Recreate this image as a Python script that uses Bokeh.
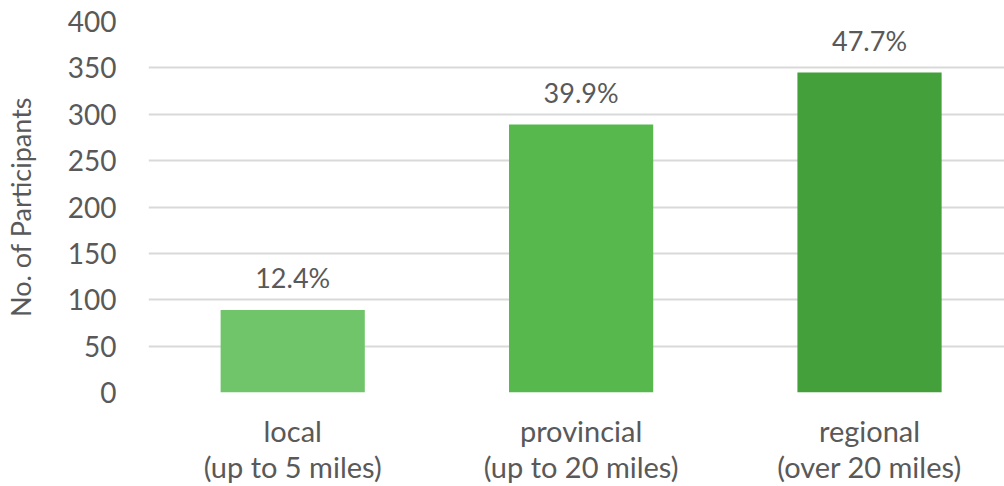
from bokeh.plotting import figure
from bokeh.models import ColumnDataSource, Range1d, FixedTicker
from bokeh.core.properties import value
from bokeh.embed import file_html
from bokeh.resources import INLINE

category_names = ["local", "provincial", "regional"]
category_ranges = ["(up to 5 miles)", "(up to 20 miles)", "(over 20 miles)"]
participants = [89, 289, 345]
shares = ["12.4%", "39.9%", "47.7%"]
colors = ["#70C56B", "#57B94D", "#43A03B"]
y_ticks = [0, 50, 100, 150, 200, 250, 300, 350, 400]

FONT = "Lato"
TXT = "#595959"

xs = [i + 0.5 for i in range(len(category_names))]
src = ColumnDataSource(dict(x=xs, top=participants, label=shares, color=colors))

p = figure(width=1004, height=486, output_backend="svg", toolbar_location=None,
           x_range=Range1d(0, 2.968), y_range=Range1d(0, 400),
           min_border_left=147, min_border_right=0, min_border_top=21, min_border_bottom=94)
p.outline_line_color = None
p.background_fill_color = "white"
p.border_fill_color = "white"

p.vbar(x="x", top="top", width=0.5, bottom=0, color="color", source=src, line_color=None)
p.text(x="x", y="top", text="label", source=src, text_align="center",
       text_baseline="alphabetic", y_offset=-32, text_color=TXT,
       text_font=value(FONT), text_font_size="27px")

p.xgrid.grid_line_color = None
p.ygrid.grid_line_color = "#D9D9D9"
p.ygrid.grid_line_width = 2
p.ygrid.ticker = FixedTicker(ticks=y_ticks)

p.yaxis.ticker = FixedTicker(ticks=y_ticks)
p.yaxis.axis_line_color = None
p.yaxis.major_tick_line_color = None
p.yaxis.minor_tick_line_color = None
p.yaxis.major_label_standoff = 26
p.yaxis.major_label_text_font = FONT
p.yaxis.major_label_text_font_size = "28px"
p.yaxis.major_label_text_color = TXT
p.yaxis.axis_label = "No. of Participants"
p.yaxis.axis_label_text_font = FONT
p.yaxis.axis_label_text_font_size = "27px"
p.yaxis.axis_label_text_font_style = "normal"
p.yaxis.axis_label_text_color = TXT
p.yaxis.axis_label_standoff = 28

p.xaxis.ticker = FixedTicker(ticks=xs)
p.xaxis.major_label_overrides = {x: f"{n}\n{r}" for x, n, r in zip(xs, category_names, category_ranges)}
p.xaxis.axis_line_color = None
p.xaxis.major_tick_line_color = None
p.xaxis.minor_tick_line_color = None
p.xaxis.major_tick_out = 0
p.xaxis.major_tick_in = 0
p.xaxis.minor_tick_out = 0
p.xaxis.major_label_standoff = 20
p.xaxis.major_label_text_font = FONT
p.xaxis.major_label_text_font_size = "29px"
p.xaxis.major_label_text_line_height = 1.03
p.xaxis.major_label_text_color = TXT

open("out.html", "w").write(file_html(p, INLINE))
